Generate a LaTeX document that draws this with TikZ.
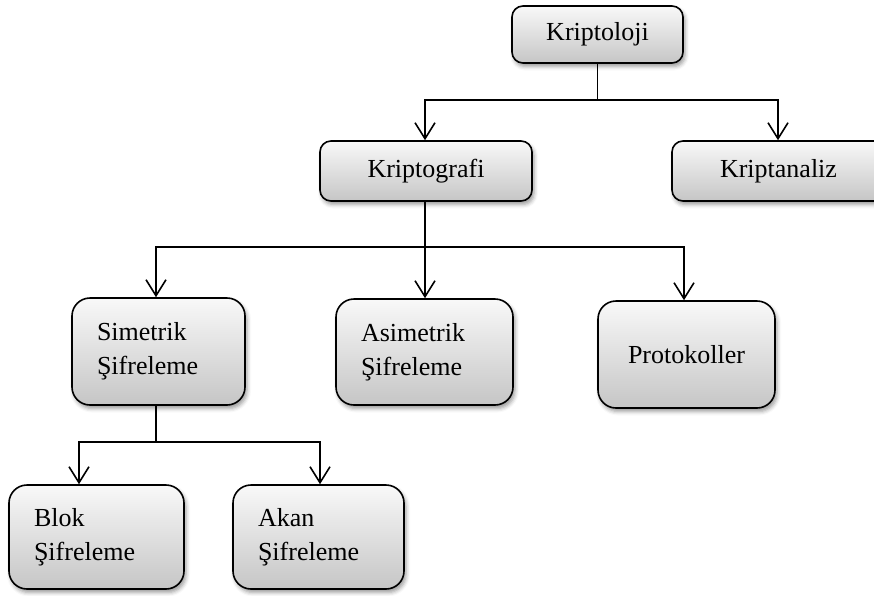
\documentclass[tikz,border=0pt]{standalone}
\usepackage{fontspec}
\setmainfont{Liberation Serif}
\usetikzlibrary{arrows.meta,shadows.blur}
\begin{document}
\begin{tikzpicture}[x=1pt,y=-1pt,
 box/.style={draw=black, line width=1.6pt, top color=gray!5, bottom color=gray!45,
   blur shadow={shadow xshift=2pt,shadow yshift=-3.5pt,shadow blur radius=4pt,shadow opacity=40},
   font=\fontsize{26}{34}\selectfont, inner sep=0pt},
 sbox/.style={box, rounded corners=11pt},
 tbox/.style={box, rounded corners=18pt, align=left, inner xsep=25pt},
 conn/.style={line width=1.6pt},
 arr/.style={conn, -{Straight Barb[length=16pt,width=20pt]}}]
\useasboundingbox (0,0) rectangle (874,595);

\node[sbox, minimum width=171pt, minimum height=57pt] (kl) at (597.5,34.5) {Kriptoloji};
\node[sbox, minimum width=212pt, minimum height=60pt] (kg) at (426,171) {Kriptografi};
\node[sbox, minimum width=213pt, minimum height=60pt] (ka) at (778.5,171) {Kriptanaliz};
\node[tbox, text width=123pt, minimum width=173pt, minimum height=107pt] (sm) at (158.5,351.5) {Simetrik\\Şifreleme};
\node[tbox, text width=127pt, minimum width=177pt, minimum height=106pt] (as) at (424.5,352) {Asimetrik\\Şifreleme};
\node[box, rounded corners=18pt, minimum width=177pt, minimum height=107pt] (pr) at (686.5,354.5) {Protokoller};
\node[tbox, text width=125pt, minimum width=175pt, minimum height=104pt] (bl) at (96.5,537) {Blok\\Şifreleme};
\node[tbox, text width=121pt, minimum width=171pt, minimum height=104pt] (ak) at (318.5,537) {Akan\\Şifreleme};

\coordinate (j1) at (597.5,100);
\coordinate (j1a) at (425,100);
\coordinate (j1b) at (778,100);
\draw[conn] (kl.south) -- (j1);
\draw[arr] (j1) -- (j1a) -- (j1a |- kg.north);
\draw[arr] (j1) -- (j1b) -- (j1b |- ka.north);

\coordinate (j2) at (425,247);
\coordinate (j2a) at (156,247);
\coordinate (j2b) at (684,247);
\draw[arr] (j2 |- kg.south) -- (j2 |- as.north);
\draw[arr] (j2) -- (j2a) -- (j2a |- sm.north);
\draw[arr] (j2) -- (j2b) -- (j2b |- pr.north);

\coordinate (j3) at (156,442);
\coordinate (j3a) at (79,442);
\coordinate (j3b) at (320,442);
\draw[conn] (j3 |- sm.south) -- (j3);
\draw[arr] (j3) -- (j3a) -- (j3a |- bl.north);
\draw[arr] (j3) -- (j3b) -- (j3b |- ak.north);
\end{tikzpicture}
\end{document}
